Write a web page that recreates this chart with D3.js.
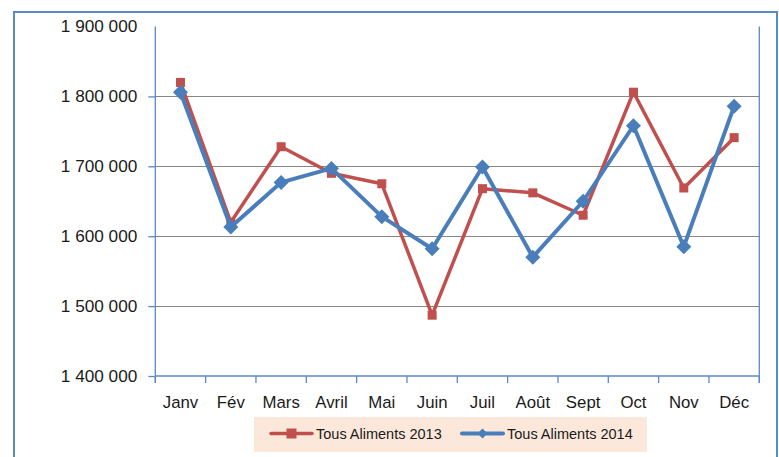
<!DOCTYPE html>
<html>
<head>
<meta charset="utf-8">
<script src="https://cdn.jsdelivr.net/npm/d3@7"></script>
<style>
  html, body { margin: 0; padding: 0; background: #fff; }
  svg { display: block; }
  text { font-family: "Liberation Sans", Arial, sans-serif; fill: #1a1a1a; }
</style>
</head>
<body>
<svg id="chart" width="779" height="457"></svg>
<script>
const months = ["Janv", "Fév", "Mars", "Avril", "Mai", "Juin", "Juil", "Août", "Sept", "Oct", "Nov", "Déc"];
const values2013 = [1820000, 1620000, 1728000, 1690000, 1675000, 1487000, 1668000, 1662000, 1630000, 1806000, 1669000, 1741000];
const values2014 = [1806000, 1613000, 1677000, 1697000, 1628000, 1582000, 1699000, 1570000, 1650000, 1758000, 1585000, 1786000];
const yTicks = [1400000, 1500000, 1600000, 1700000, 1800000, 1900000];
const seriesNames = ["Tous Aliments 2013", "Tous Aliments 2014"];

const svg = d3.select("#chart");
const plot = { left: 155.3, right: 759.3, top: 26.5, bottom: 376 };
const axisColor = "#5b8ac6";
const red = "#c0504d";
const blue = "#4a7ebb";

// outer frame
svg.append("path")
  .attr("d", `M14,460 L14,12 L777,12 L777,460`)
  .attr("fill", "none").attr("stroke", "#5b8ac6").attr("stroke-width", 2);

const x = d3.scaleBand().domain(months).range([plot.left, plot.right]).padding(0);
const y = d3.scaleLinear().domain([1400000, 1900000]).range([plot.bottom, plot.top]);
const xc = m => x(m) + x.bandwidth() / 2;

const fmt = v => d3.format(",")(v).replace(/,/g, " ");

// gridlines
svg.append("g").selectAll("line")
  .data(yTicks.filter(t => t > 1400000 && t < 1900000))
  .join("line")
  .attr("x1", plot.left).attr("x2", plot.right)
  .attr("y1", d => Math.round(y(d)) + 0.5).attr("y2", d => Math.round(y(d)) + 0.5)
  .attr("stroke", "#868686").attr("stroke-width", 1);

// y axis
const yAxis = d3.axisLeft(y).tickValues(yTicks.filter(t => t < 1900000)).tickSize(7).tickFormat(fmt).tickPadding(11);
const gy = svg.append("g").attr("transform", `translate(${plot.left},0)`).call(yAxis);
gy.select(".domain").remove();
gy.selectAll(".tick line").attr("stroke", axisColor).attr("stroke-width", 1.3);
gy.selectAll(".tick text").attr("font-size", "17.2px").attr("font-family", "Liberation Sans, Arial, sans-serif").attr("fill", "#1a1a1a");
// top label (no tick)
svg.append("text").attr("x", plot.left - 18).attr("y", y(1900000)).attr("dy", "0.32em")
  .attr("text-anchor", "end").attr("font-size", "17.2px").text(fmt(1900000));

// left axis line & right line
svg.append("line").attr("x1", plot.left).attr("x2", plot.left).attr("y1", plot.top).attr("y2", plot.bottom + 7)
  .attr("stroke", axisColor).attr("stroke-width", 1.3);
svg.append("line").attr("x1", plot.right).attr("x2", plot.right).attr("y1", plot.top).attr("y2", plot.bottom + 7)
  .attr("stroke", axisColor).attr("stroke-width", 1.3);

// x axis
svg.append("line").attr("x1", plot.left).attr("x2", plot.right).attr("y1", plot.bottom).attr("y2", plot.bottom)
  .attr("stroke", axisColor).attr("stroke-width", 1.5);
const bounds = months.map(m => x(m)).concat([plot.right]);
svg.append("g").selectAll("line").data(bounds).join("line")
  .attr("x1", d => d).attr("x2", d => d).attr("y1", plot.bottom).attr("y2", plot.bottom + 7)
  .attr("stroke", axisColor).attr("stroke-width", 1.3);
svg.append("g").selectAll("text").data(months).join("text")
  .attr("x", d => xc(d)).attr("y", 408).attr("text-anchor", "middle")
  .attr("font-size", "16.8px").text(d => d);

// lines
const line = d3.line().x((d, i) => xc(months[i])).y(d => y(d));
svg.append("path").datum(values2013).attr("d", line)
  .attr("fill", "none").attr("stroke", red).attr("stroke-width", 3.5).attr("stroke-linejoin", "round");
svg.append("g").selectAll("rect").data(values2013).join("rect")
  .attr("x", (d, i) => xc(months[i]) - 4.5).attr("y", d => y(d) - 4.5)
  .attr("width", 9).attr("height", 9).attr("fill", red);

svg.append("path").datum(values2014).attr("d", line)
  .attr("fill", "none").attr("stroke", blue).attr("stroke-width", 4).attr("stroke-linejoin", "round");
const diamond = s => `M0,${-s} L${s},0 L0,${s} L${-s},0 Z`;
svg.append("g").selectAll("path").data(values2014).join("path")
  .attr("transform", (d, i) => `translate(${xc(months[i])},${y(d)})`)
  .attr("d", diamond(7.5)).attr("fill", blue);

// legend
const lg = svg.append("g");
lg.append("rect").attr("x", 254).attr("y", 417).attr("width", 393).attr("height", 35).attr("fill", "#fce8da");
const legendItems = [
  { name: seriesNames[0], color: red, x0: 271, marker: "square" },
  { name: seriesNames[1], color: blue, x0: 462, marker: "diamond" }
];
legendItems.forEach(it => {
  lg.append("line").attr("x1", it.x0).attr("x2", it.x0 + 41).attr("y1", 433.5).attr("y2", 433.5)
    .attr("stroke", it.color).attr("stroke-width", it.marker === "square" ? 3.5 : 4).attr("stroke-linecap", "round");
  if (it.marker === "square") {
    lg.append("rect").attr("x", it.x0 + 20.5 - 5).attr("y", 428.5).attr("width", 10).attr("height", 10).attr("fill", it.color);
  } else {
    lg.append("path").attr("transform", `translate(${it.x0 + 20.5},433.5)`).attr("d", diamond(5)).attr("fill", it.color);
  }
  lg.append("text").attr("x", it.x0 + 45).attr("y", 438.5).attr("font-size", "14.5px").text(it.name);
});
</script>
</body>
</html>
